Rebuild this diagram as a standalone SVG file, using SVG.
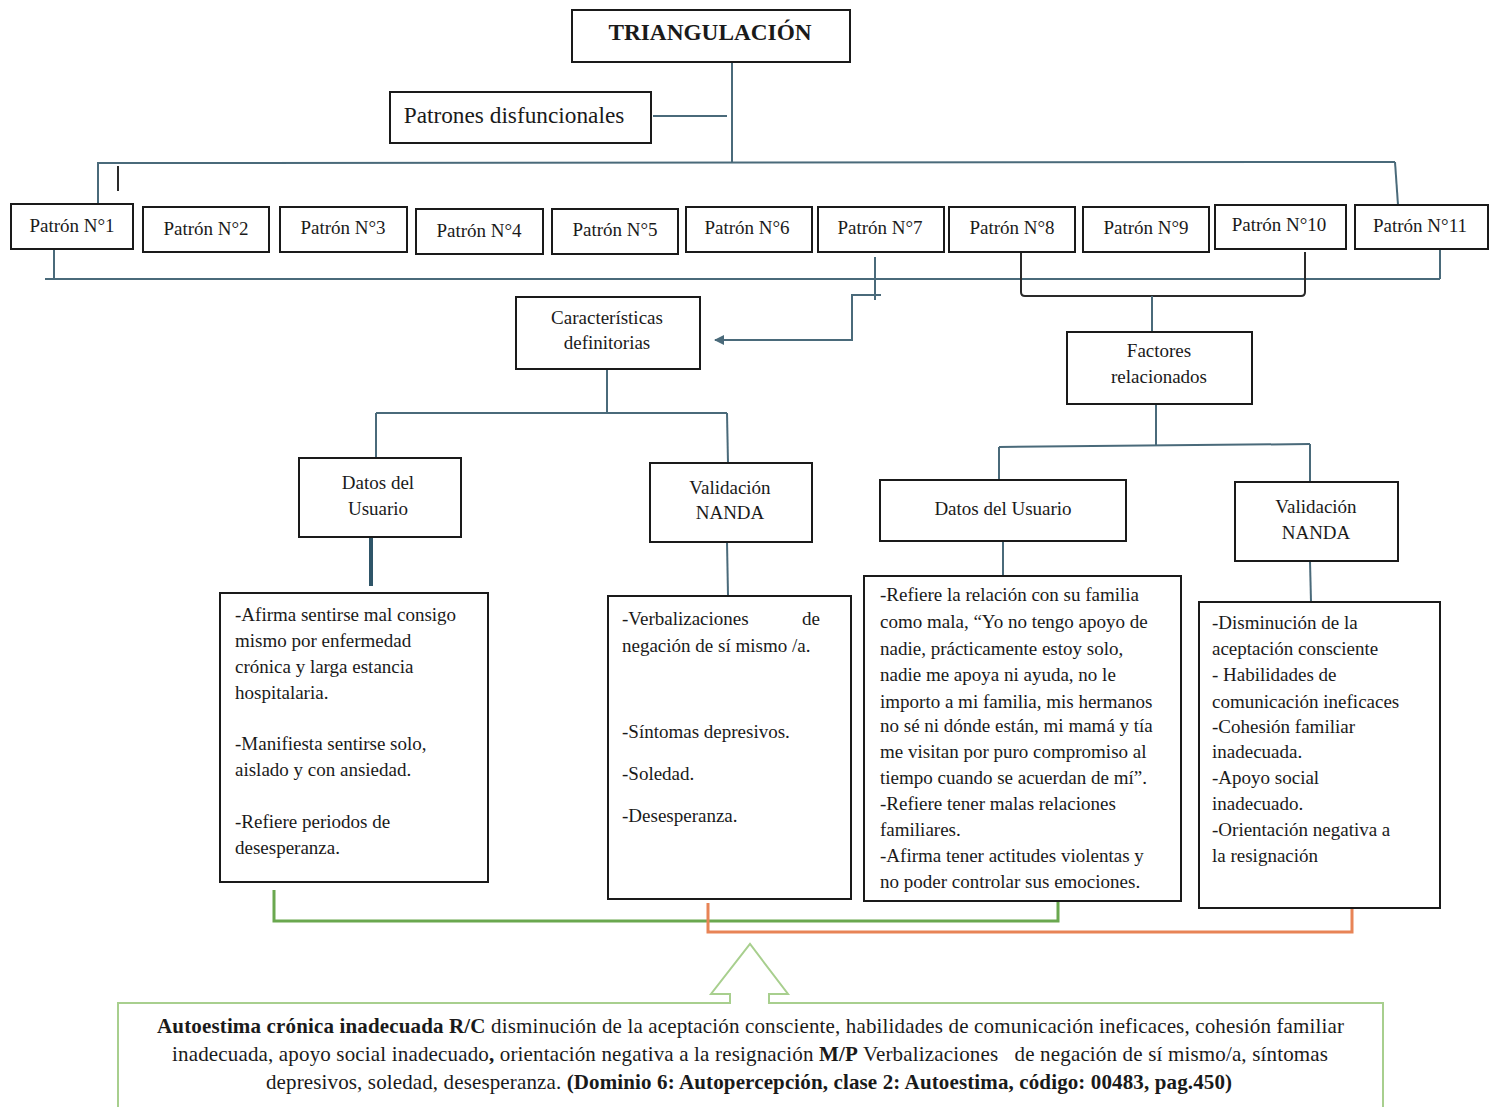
<svg xmlns="http://www.w3.org/2000/svg" width="1497" height="1107" viewBox="0 0 1497 1107">
<style>
.box{fill:#fff;stroke:#1a1a1a;stroke-width:2}
.t{font-family:"Liberation Serif","Times New Roman",serif;font-size:19px;fill:#1a1a1a}
.c{text-anchor:middle}
.b{font-weight:bold}
.ln{fill:none;stroke:#4a6a7a;stroke-width:2}
.dk{stroke:#2a2a2a}
.thick{stroke:#2f5568;stroke-width:4}
.dx{font-size:21px}
.big{font-size:23.3px}
</style>
<defs>
<marker id="ah" viewBox="0 0 10 10" refX="9" refY="5" markerWidth="5" markerHeight="5" orient="auto-start-reverse">
<path d="M0,0 L10,5 L0,10 z" fill="#4a6a7a"/>
</marker>
</defs>
<rect width="1497" height="1107" fill="#fff"/>

<g id="connectors">
<line class="ln" x1="732" y1="62" x2="732" y2="163"/>
<line class="ln" x1="653" y1="116" x2="727" y2="116"/>
<line class="ln" x1="98" y1="163" x2="1395" y2="162"/>
<line class="ln" x1="98" y1="162" x2="98" y2="203"/>
<line class="ln dk" x1="118" y1="166" x2="118" y2="191"/>
<line class="ln" x1="1395" y1="162" x2="1398" y2="205"/>
<line class="ln" x1="45" y1="279" x2="1440" y2="279"/>
<line class="ln" x1="54" y1="249" x2="54" y2="279"/>
<line class="ln" x1="1440" y1="249" x2="1440" y2="279"/>
<line class="ln" x1="875" y1="257" x2="875" y2="300"/>
<path class="ln" d="M881,295 L852,295 L852,340 L715,340" marker-end="url(#ah)"/>
<path class="ln dk" d="M1021,252 L1021,292 Q1021,296 1025,296 L1301,296 Q1305,296 1305,292 L1305,252"/>
<line class="ln" x1="1152" y1="296" x2="1152" y2="332"/>
<line class="ln" x1="607" y1="369" x2="607" y2="413"/>
<line class="ln" x1="376" y1="413" x2="727" y2="413"/>
<line class="ln" x1="376" y1="413" x2="376" y2="458"/>
<line class="ln" x1="727" y1="413" x2="728" y2="463"/>
<line class="ln" x1="1156" y1="404" x2="1156" y2="446"/>
<line class="ln" x1="999" y1="447" x2="1310" y2="444"/>
<line class="ln" x1="999" y1="447" x2="999" y2="480"/>
<line class="ln" x1="1310" y1="444" x2="1310" y2="482"/>
<line class="ln thick" x1="371" y1="537" x2="371" y2="586"/>
<line class="ln" x1="727" y1="542" x2="728" y2="595"/>
<line class="ln" x1="1003" y1="541" x2="1003" y2="576"/>
<line class="ln" x1="1310" y1="561" x2="1311" y2="602"/>
<path d="M274,890 L274,921 L1058,921 L1058,888" fill="none" stroke="#6aa84f" stroke-width="3"/>
<path d="M708,903 L708,932 L1352,932 L1352,902" fill="none" stroke="#e88456" stroke-width="3"/>
</g>

<g id="n-triangulacion"><rect class="box" x="572" y="10" width="278" height="52"/><text class="t c b big" x="710" y="40">TRIANGULACIÓN</text></g>
<g id="n-patrones"><rect class="box" x="390" y="92" width="261" height="51"/><text class="t c big" x="514" y="123">Patrones disfuncionales</text></g>

<g id="n-p1"><rect class="box" x="11" y="204" width="122" height="45"/><text class="t c" x="72" y="232">Patrón N°1</text></g>
<g id="n-p2"><rect class="box" x="143" y="207" width="126" height="45"/><text class="t c" x="206" y="235">Patrón N°2</text></g>
<g id="n-p3"><rect class="box" x="280" y="207" width="127" height="45"/><text class="t c" x="343" y="234">Patrón N°3</text></g>
<g id="n-p4"><rect class="box" x="416" y="209" width="127" height="45"/><text class="t c" x="479" y="237">Patrón N°4</text></g>
<g id="n-p5"><rect class="box" x="552" y="209" width="126" height="45"/><text class="t c" x="615" y="236">Patrón N°5</text></g>
<g id="n-p6"><rect class="box" x="686" y="207" width="126" height="45"/><text class="t c" x="747" y="234">Patrón N°6</text></g>
<g id="n-p7"><rect class="box" x="818" y="207" width="126" height="45"/><text class="t c" x="880" y="234">Patrón N°7</text></g>
<g id="n-p8"><rect class="box" x="949" y="207" width="126" height="45"/><text class="t c" x="1012" y="234">Patrón N°8</text></g>
<g id="n-p9"><rect class="box" x="1083" y="207" width="126" height="45"/><text class="t c" x="1146" y="234">Patrón N°9</text></g>
<g id="n-p10"><rect class="box" x="1215" y="205" width="131" height="44"/><text class="t c" x="1279" y="231">Patrón N°10</text></g>
<g id="n-p11"><rect class="box" x="1355" y="205" width="133" height="44"/><text class="t c" x="1420" y="232">Patrón N°11</text></g>

<g id="n-caracteristicas"><rect class="box" x="516" y="297" width="184" height="72"/><text class="t c" x="607" y="324">Características</text><text class="t c" x="607" y="349">definitorias</text></g>
<g id="n-factores"><rect class="box" x="1067" y="332" width="185" height="72"/><text class="t c" x="1159" y="357">Factores</text><text class="t c" x="1159" y="383">relacionados</text></g>

<g id="n-datos1"><rect class="box" x="299" y="458" width="162" height="79"/><text class="t c" x="378" y="489">Datos del</text><text class="t c" x="378" y="515">Usuario</text></g>
<g id="n-nanda1"><rect class="box" x="650" y="463" width="162" height="79"/><text class="t c" x="730" y="494">Validación</text><text class="t c" x="730" y="519">NANDA</text></g>
<g id="n-datos2"><rect class="box" x="880" y="480" width="246" height="61"/><text class="t c" x="1003" y="515">Datos del Usuario</text></g>
<g id="n-nanda2"><rect class="box" x="1235" y="482" width="163" height="79"/><text class="t c" x="1316" y="513">Validación</text><text class="t c" x="1316" y="539">NANDA</text></g>

<g id="n-texto1"><rect class="box" x="220" y="593" width="268" height="289"/>
<text class="t"><tspan x="235" y="621">-Afirma sentirse mal consigo</tspan><tspan x="235" y="647">mismo por enfermedad</tspan><tspan x="235" y="673">crónica y larga estancia</tspan><tspan x="235" y="699">hospitalaria.</tspan><tspan x="235" y="750">-Manifiesta sentirse solo,</tspan><tspan x="235" y="776">aislado y con ansiedad.</tspan><tspan x="235" y="828">-Refiere periodos de</tspan><tspan x="235" y="854">desesperanza.</tspan></text></g>

<g id="n-texto2"><rect class="box" x="608" y="596" width="243" height="303"/>
<text class="t"><tspan x="622" y="625">-Verbalizaciones</tspan><tspan x="820" y="625" text-anchor="end">de</tspan><tspan x="622" y="652">negación de sí mismo /a.</tspan><tspan x="622" y="738">-Síntomas depresivos.</tspan><tspan x="622" y="780">-Soledad.</tspan><tspan x="622" y="822">-Desesperanza.</tspan></text></g>

<g id="n-texto3"><rect class="box" x="864" y="576" width="317" height="325"/>
<text class="t"><tspan x="880" y="601">-Refiere la relación con su familia</tspan><tspan x="880" y="628">como mala, “Yo no tengo apoyo de</tspan><tspan x="880" y="655">nadie, prácticamente estoy solo,</tspan><tspan x="880" y="681">nadie me apoya ni ayuda, no le</tspan><tspan x="880" y="708">importo a mi familia, mis hermanos</tspan><tspan x="880" y="732">no sé ni dónde están, mi mamá y tía</tspan><tspan x="880" y="758">me visitan por puro compromiso al</tspan><tspan x="880" y="784">tiempo cuando se acuerdan de mí”.</tspan><tspan x="880" y="810">-Refiere tener malas relaciones</tspan><tspan x="880" y="836">familiares.</tspan><tspan x="880" y="862">-Afirma tener actitudes violentas y</tspan><tspan x="880" y="888">no poder controlar sus emociones.</tspan></text></g>

<g id="n-texto4"><rect class="box" x="1199" y="602" width="241" height="306"/>
<text class="t"><tspan x="1212" y="629">-Disminución de la</tspan><tspan x="1212" y="655">aceptación consciente</tspan><tspan x="1212" y="681">- Habilidades de</tspan><tspan x="1212" y="708">comunicación ineficaces</tspan><tspan x="1212" y="733">-Cohesión familiar</tspan><tspan x="1212" y="758">inadecuada.</tspan><tspan x="1212" y="784">-Apoyo social</tspan><tspan x="1212" y="810">inadecuado.</tspan><tspan x="1212" y="836">-Orientación negativa a</tspan><tspan x="1212" y="862">la resignación</tspan></text></g>

<g id="n-diagnostico">
<path d="M730,1003 L118,1003 L118,1110 L1383,1110 L1383,1003 L769,1003 L769,994 L788,994 L750,944 L711,994 L730,994 Z" fill="#fff" stroke="#a8cf8e" stroke-width="2"/>
<text class="t dx" x="157" y="1033" textLength="1187" lengthAdjust="spacing"><tspan class="b">Autoestima crónica inadecuada R/C</tspan> disminución de la aceptación consciente, habilidades de comunicación ineficaces, cohesión familiar</text>
<text class="t dx" x="172" y="1061" textLength="1156" lengthAdjust="spacing" xml:space="preserve">inadecuada, apoyo social inadecuado<tspan class="b">,</tspan> orientación negativa a la resignación <tspan class="b">M/P</tspan> Verbalizaciones   de negación de sí mismo/a, síntomas</text>
<text class="t dx" x="266" y="1089" textLength="966" lengthAdjust="spacing">depresivos, soledad, desesperanza. <tspan class="b">(Dominio 6: Autopercepción, clase 2: Autoestima, código: 00483, pag.450)</tspan></text>
</g>
</svg>
